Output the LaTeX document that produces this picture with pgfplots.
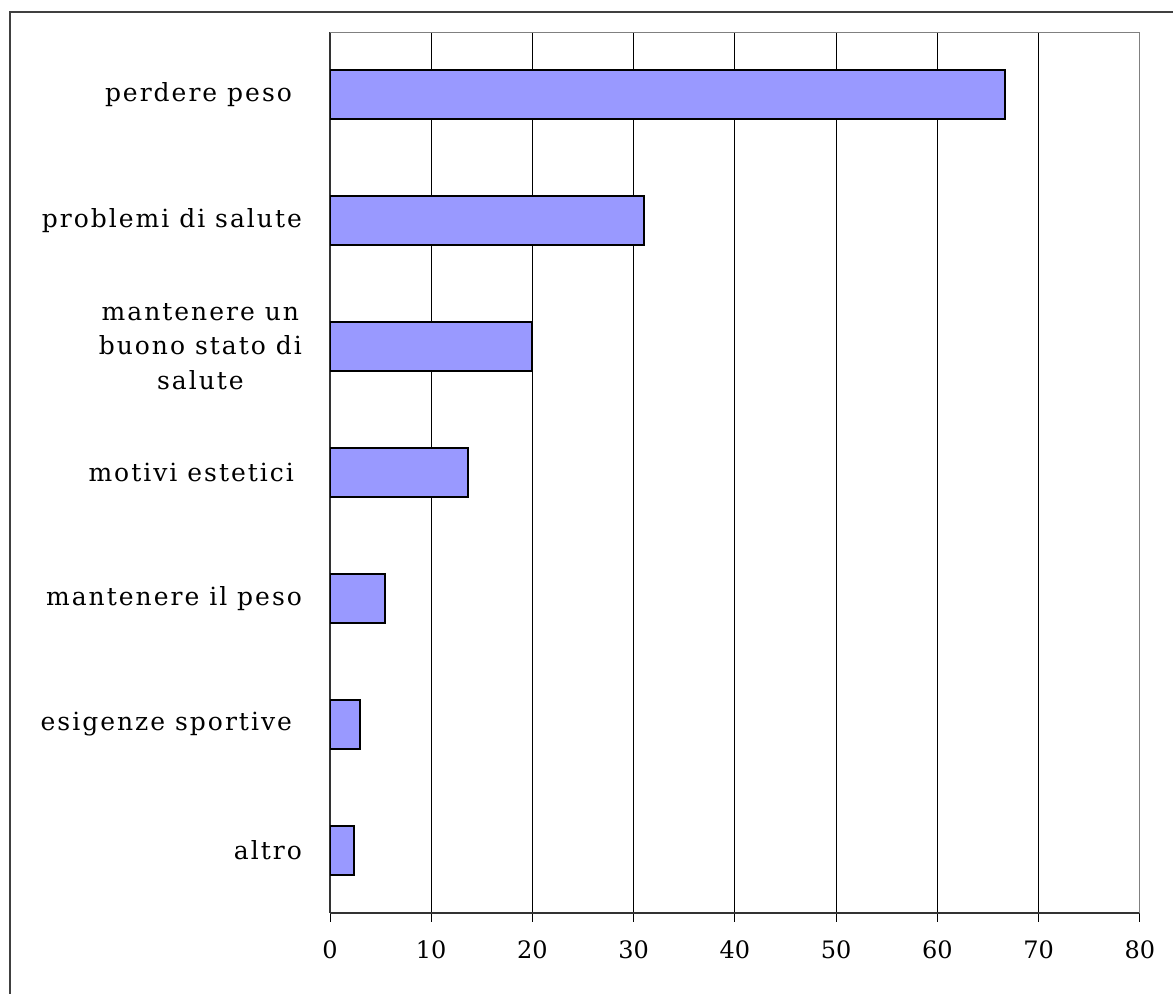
\documentclass[border=0pt]{standalone}
\usepackage{pgfplots}
\pgfplotsset{compat=1.18}
\usepackage{fontspec}
\setmainfont{DejaVu Serif}
\newfontfamily\lblfont{DejaVu Serif}[LetterSpace=8]
\definecolor{barfill}{HTML}{9999FF}
\begin{document}
\begin{tikzpicture}[x=1pt,y=1pt]
\useasboundingbox (0,0) rectangle (586.5,497);
\draw[line width=1pt, black!75] (5,-20) rectangle (600,491);
\begin{axis}[
  at={(165pt,40.5pt)}, anchor=south west,
  scale only axis, width=405pt, height=440.5pt,
  xbar, bar width=24.5pt,
  xmin=0, xmax=80, ymin=-0.5, ymax=6.5,
  xtick={0,10,...,80},
  ytick={0,...,6},
  yticklabels={altro, esigenze sportive\hspace{5pt}, mantenere il peso, motivi estetici\hspace{4pt}, {mantenere un\\buono stato di\\salute}, problemi di salute, perdere peso\hspace{5pt}},
  yticklabel style={align=center, font=\lblfont\fontsize{12.5}{17.3}\selectfont},
  xticklabel style={font=\fontsize{12}{14}\selectfont, yshift=-6pt},
  /pgf/number format/assume math mode=true,
  ytick style={draw=none},
  tick align=outside,
  major tick length=4.5pt,
  xtick style={black, line width=0.5pt},
  xmajorgrids, grid style={black, line width=0.5pt},
  axis x line*=bottom, axis y line*=left,
  x axis line style={-, black!80, line width=1pt},
  y axis line style={-, black!80, line width=1pt},
  yticklabel style={xshift=-6pt},
]
\addplot[fill=barfill, draw=black, line width=1pt] coordinates {(66.7,6) (31,5) (20,4) (13.6,3) (5.4,2) (3,1) (2.4,0)};
\draw[gray, line width=1pt] (rel axis cs:0,1) -- (rel axis cs:1,1) -- (rel axis cs:1,0);
\end{axis}
\end{tikzpicture}
\end{document}
